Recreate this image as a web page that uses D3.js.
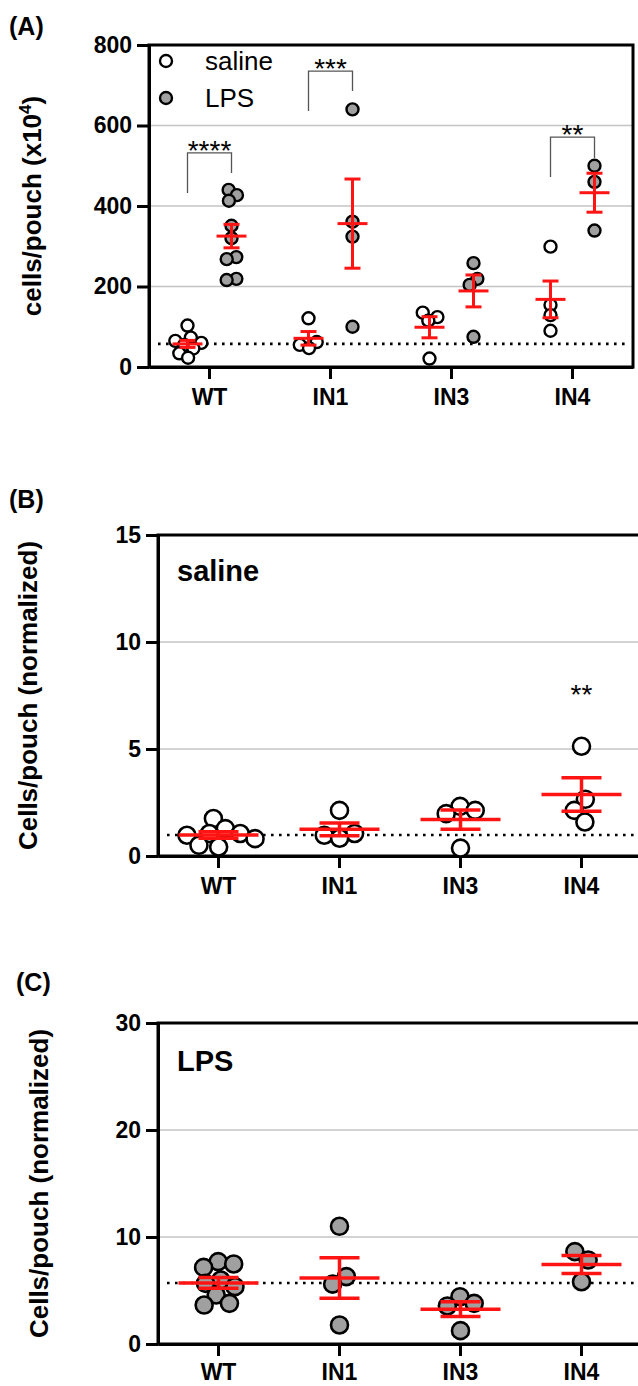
<!DOCTYPE html>
<html>
<head>
<meta charset="utf-8">
<script src="https://cdn.jsdelivr.net/npm/d3@7"></script>
<style>
body { margin: 0; background: #fff; }
svg { display: block; }
</style>
</head>
<body>
<script>
var groups = ["WT", "IN1", "IN3", "IN4"];

// (A) absolute counts, cells/pouch x10^4
var salineA = [
    [103, 73, 65, 60, 55, 46, 34, 23],
    [121, 62, 55, 47],
    [135, 124, 115, 21],
    [299, 154, 129, 90]
];
var lpsA = [
    [440, 427, 413, 351, 320, 273, 268, 219, 216],
    [640, 361, 324, 100],
    [258, 219, 204, 75],
    [500, 460, 339]
];

// (B) and (C) normalized to WT saline
var salineNorm = [
    [1.75, 1.28, 1.05, 1.05, 0.97, 0.81, 0.50, 0.42],
    [2.13, 1.05, 0.97, 0.83],
    [2.32, 2.13, 1.98, 0.37],
    [5.13, 2.65, 2.13, 1.59]
];
var lpsNorm = [
    [7.70, 7.48, 7.16, 5.98, 5.67, 5.36, 4.58, 3.80, 3.64],
    [11.0, 6.30, 5.60, 1.78],
    [4.42, 3.80, 3.55, 1.25],
    [8.63, 7.85, 5.82]
];

var ticksA = [0, 200, 400, 600, 800];
var ticksB = [0, 5, 10, 15];
var ticksC = [0, 10, 20, 30];

// significance: group, stars, bracket top, left end, right end
var sigA = [
    ["WT", "****", 532, 432, 482],
    ["IN1", "***", 735, 636, 686],
    ["IN4", "**", 571, 472, 519]
];
// group, stars, baseline value
var sigB = [["IN4", "**", 7.1]];

var legendA = [["saline", "#fff"], ["LPS", "#a0a0a0"]];

var FONT = "'Liberation Sans', Arial, Helvetica, sans-serif";
var RED = "#ff1414";

var svg = d3.select("body").append("svg")
    .attr("width", 638)
    .attr("height", 1386)
    .style("font-family", FONT);

var panels = [
    {tag: "(A)", tagX: 9, tagY: 35, left: 149, right: 633, top: 45, bottom: 367, max: 800, ticks: ticksA,
     titleX: 41, r: 6, sw: 2.4, mw: 15, cw: 8, rw: 3, pack: 0.68, xlab: 38,
     series: [{data: salineA, fill: "#fff", off: -22}, {data: lpsA, fill: "#a0a0a0", off: 22}]},
    {tag: "(B)", tagX: 9, tagY: 508, left: 158, right: 642, top: 535, bottom: 856, max: 15, ticks: ticksB,
     titleX: 37, r: 8.5, sw: 2.6, mw: 40, cw: 20, rw: 3.5, pack: 0.8, xlab: 38, inset: "saline", insetY: 581,
     series: [{data: salineNorm, fill: "#fff", off: 0}]},
    {tag: "(C)", tagX: 16, tagY: 991, left: 158, right: 642, top: 1023, bottom: 1344, max: 30, ticks: ticksC,
     titleX: 48, r: 8.5, sw: 2.6, mw: 40, cw: 20, rw: 3.5, pack: 0.8, xlab: 36, inset: "LPS", insetY: 1071,
     series: [{data: lpsNorm, fill: "#a0a0a0", off: 0}]}
];

function swarm(vals, cx, y, R) {
    var nodes = vals.map(function(v, i) {
        return {v: v, x: cx + (i % 2 ? 1 : -1) * (i + 1) * 0.7, fy: y(v)};
    });
    var sim = d3.forceSimulation(nodes)
        .force("x", d3.forceX(cx).strength(0.1))
        .force("c", d3.forceCollide(R))
        .stop();
    sim.tick(300);
    return nodes;
}

panels.forEach(function(p, pi) {
    var x = d3.scaleBand().domain(groups).range([p.left, p.right]).padding(0);
    var y = d3.scaleLinear().domain([0, p.max]).range([p.bottom, p.top]);
    var bw = x.bandwidth();
    var g = svg.append("g");

    // grid
    g.selectAll(".grid")
        .data(p.ticks.filter(function(t) { return t > 0 && t < p.max; }))
        .enter().append("line")
        .attr("x1", p.left).attr("x2", p.right)
        .attr("y1", function(d) { return y(d); })
        .attr("y2", function(d) { return y(d); })
        .attr("stroke", "#c4c4c4")
        .attr("stroke-width", 1.5);

    // frame
    g.append("rect")
        .attr("x", p.left).attr("y", p.top)
        .attr("width", p.right - p.left).attr("height", p.bottom - p.top)
        .attr("fill", "none").attr("stroke", "#000").attr("stroke-width", 3);

    // axes
    var ya = g.append("g")
        .attr("transform", "translate(" + p.left + ",0)")
        .call(d3.axisLeft(y).tickValues(p.ticks).tickSize(12).tickSizeOuter(0).tickPadding(5));
    var xa = g.append("g")
        .attr("transform", "translate(0," + p.bottom + ")")
        .call(d3.axisBottom(x).tickSize(12).tickSizeOuter(0));
    [ya, xa].forEach(function(a) {
        a.select(".domain").attr("stroke-width", 3);
        a.selectAll(".tick line").attr("stroke-width", 3);
        a.selectAll("text").attr("fill", "#000").style("font-family", FONT).attr("font-weight", "bold");
    });
    ya.selectAll("text").attr("font-size", 23);
    xa.selectAll("text").attr("font-size", 23).attr("y", p.xlab).attr("dy", 0);

    // reference dotted line at WT mean of first series
    var ref = d3.mean(p.series[0].data[0]);
    g.append("line")
        .attr("x1", p.left + 9).attr("x2", p.right - 4)
        .attr("y1", y(ref)).attr("y2", y(ref))
        .attr("stroke", "#000").attr("stroke-width", 2.6)
        .attr("stroke-dasharray", "2.6,5.4");

    // points
    p.series.forEach(function(s) {
        s.data.forEach(function(vals, gi) {
            var cx = x(groups[gi]) + bw / 2 + s.off;
            var nodes = swarm(vals, cx, y, (p.r + p.sw / 2) * p.pack);
            g.append("g").selectAll("circle")
                .data(nodes)
                .enter().append("circle")
                .attr("cx", function(d) { return d.x; })
                .attr("cy", function(d) { return d.fy; })
                .attr("r", p.r)
                .attr("fill", s.fill)
                .attr("stroke", "#000")
                .attr("stroke-width", p.sw);
        });
    });

    // mean +/- SEM
    p.series.forEach(function(s) {
        s.data.forEach(function(vals, gi) {
            var cx = x(groups[gi]) + bw / 2 + s.off;
            var m = d3.mean(vals);
            var se = d3.deviation(vals) / Math.sqrt(vals.length);
            var eb = g.append("g").attr("stroke", RED).attr("stroke-width", p.rw);
            eb.append("line").attr("x1", cx).attr("x2", cx).attr("y1", y(m - se)).attr("y2", y(m + se));
            eb.append("line").attr("x1", cx - p.mw).attr("x2", cx + p.mw).attr("y1", y(m)).attr("y2", y(m));
            [m - se, m + se].forEach(function(v) {
                eb.append("line").attr("x1", cx - p.cw).attr("x2", cx + p.cw).attr("y1", y(v)).attr("y2", y(v));
            });
        });
    });

    // panel tag
    svg.append("text")
        .attr("x", p.tagX).attr("y", p.tagY)
        .attr("font-size", 25).attr("font-weight", "bold")
        .text(p.tag);

    // y title
    var cy = (p.top + p.bottom) / 2;
    var t = svg.append("text")
        .attr("transform", "translate(" + p.titleX + "," + cy + ") rotate(-90)")
        .attr("text-anchor", "middle")
        .attr("font-size", 26).attr("font-weight", "bold");
    if (pi === 0) {
        t.append("tspan").text("cells/pouch (x10");
        t.append("tspan").attr("font-size", 17).attr("dy", -10).text("4");
        t.append("tspan").attr("dy", 10).text(")");
    } else {
        t.text("Cells/pouch (normalized)");
    }

    if (p.inset) {
        g.append("text")
            .attr("x", p.left + 19).attr("y", p.insetY)
            .attr("font-size", 29).attr("font-weight", "bold")
            .text(p.inset);
    }

    if (pi === 0) {
        // brackets
        sigA.forEach(function(d) {
            var c = x(d[0]) + bw / 2;
            var xl = c - 22, xr = c + 22;
            g.append("path")
                .attr("d", "M" + xl + "," + y(d[3]) + "V" + y(d[2]) + "H" + xr + "V" + y(d[4]))
                .attr("fill", "none").attr("stroke", "#555").attr("stroke-width", 1.3);
            g.append("text")
                .attr("x", c).attr("y", y(d[2]) + 7)
                .attr("text-anchor", "middle")
                .attr("font-size", 28)
                .text(d[1]);
        });
        // legend
        legendA.forEach(function(d, i) {
            g.append("circle")
                .attr("cx", 166).attr("cy", 61 + i * 37)
                .attr("r", p.r).attr("fill", d[1])
                .attr("stroke", "#000").attr("stroke-width", p.sw);
            g.append("text")
                .attr("x", 205).attr("y", 61 + i * 37 + 9)
                .attr("font-size", 26)
                .text(d[0]);
        });
    }
    if (pi === 1) {
        sigB.forEach(function(d) {
            g.append("text")
                .attr("x", x(d[0]) + bw / 2).attr("y", y(d[2]))
                .attr("text-anchor", "middle")
                .attr("font-size", 28)
                .text(d[1]);
        });
    }
});
</script>
</body>
</html>
